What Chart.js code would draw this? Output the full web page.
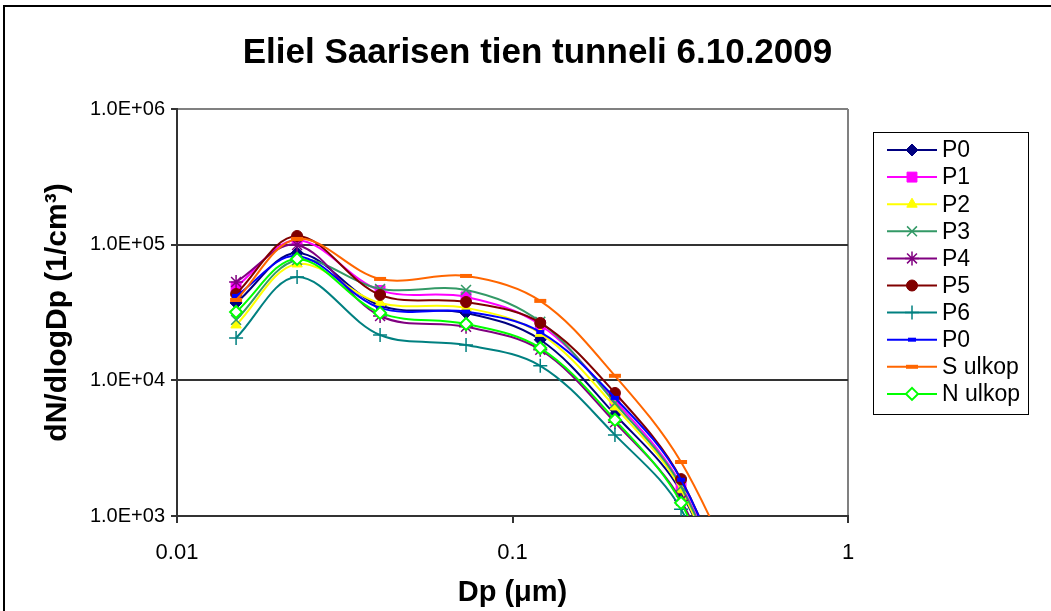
<!DOCTYPE html>
<html>
<head>
<meta charset="utf-8">
<script src="https://cdn.jsdelivr.net/npm/chart.js@4.4.0/dist/chart.umd.min.js"></script>
<style>
  html, body { margin: 0; padding: 0; background: #fff; }
  #wrap { position: relative; width: 1051px; height: 611px; }
</style>
</head>
<body>
<div id="wrap"><canvas id="psdChart" width="1051" height="611"></canvas></div>
<script>
// particle size (um) and dN/dlogDp values
const dp = [0.015, 0.0228, 0.0403, 0.0727, 0.121, 0.202, 0.318, 0.5];

const p0  = [37200, 86900, 35600, 31400, 19900, 5600, 1500, 95];
const p1  = [48800, 108000, 46000, 41200, 25600, 7100, 1700, 110];
const p2  = [25600, 72100, 37200, 34200, 22200, 6370, 1560, 95];
const p3  = [27900, 77000, 47200, 46400, 27000, 6800, 1650, 105];
const p4  = [53100, 99500, 29800, 24800, 16800, 4900, 1300, 85];
const p5  = [43300, 115900, 42600, 37800, 26500, 8070, 1870, 120];
const p6  = [20500, 57800, 21600, 18200, 12800, 3960, 1120, 70];
const p0b = [41900, 82600, 34200, 32100, 22700, 7420, 1850, 120];
const sUlkop = [39100, 110200, 55900, 58800, 38500, 10800, 2500, 250];
const nUlkop = [31900, 78500, 31400, 26000, 17300, 5110, 1250, 75];

const seriesNames = ["P0", "P1", "P2", "P3", "P4", "P5", "P6", "P0", "S ulkop", "N ulkop"];
const seriesValues = [p0, p1, p2, p3, p4, p5, p6, p0b, sUlkop, nUlkop];

const xTickValues = [0.01, 0.1, 1];
const xTickLabels = ["0.01", "0.1", "1"];
const yTickValues = [1e3, 1e4, 1e5, 1e6];
const yTickLabels = ["1.0E+03", "1.0E+04", "1.0E+05", "1.0E+06"];

const FONT = "'Liberation Sans', Arial, sans-serif";

// line colour, marker style, marker radius, marker fill
const looks = [
  { c: "#000080", ps: "rectRot",  r: 6, fill: "#000080", bw: 1 },
  { c: "#FF00FF", ps: "rect",     r: 7, fill: "#FF00FF", bw: 1 },
  { c: "#FFFF00", ps: "triangle", r: 6, fill: "#FFFF00", bw: 1 },
  { c: "#339966", ps: "crossRot", r: 7, fill: "#339966", bw: 1.5 },
  { c: "#800080", ps: "star",     r: 7, fill: "#800080", bw: 1.5 },
  { c: "#800000", ps: "circle",   r: 5.5, fill: "#800000", bw: 1 },
  { c: "#008080", ps: "cross",    r: 7, fill: "#008080", bw: 1.5 },
  { c: "#0000FF", ps: "line",     r: 4, fill: "#0000FF", bw: 4 },
  { c: "#FF6600", ps: "line",     r: 6, fill: "#FF6600", bw: 4 },
  { c: "#00FF00", ps: "rectRot",  r: 6, fill: "#FFFFFF", bw: 2 }
];

const datasets = seriesNames.map((name, i) => ({
  label: name,
  data: dp.map((x, j) => ({ x: x, y: seriesValues[i][j] })),
  borderColor: looks[i].c,
  borderWidth: 2,
  tension: 0.35,
  pointStyle: looks[i].ps,
  pointRadius: looks[i].r,
  pointHoverRadius: looks[i].r,
  pointBackgroundColor: looks[i].fill,
  pointBorderColor: looks[i].c,
  pointBorderWidth: looks[i].bw,
  order: 20 - i
}));

const frame = {
  id: "frame",
  beforeDraw(chart) {
    const ctx = chart.ctx;
    ctx.save();
    ctx.fillStyle = "#fff";
    ctx.fillRect(0, 0, chart.width, chart.height);
    ctx.strokeStyle = "#000";
    ctx.lineWidth = 2;
    ctx.beginPath();
    ctx.moveTo(4, chart.height);
    ctx.lineTo(4, 6);
    ctx.lineTo(chart.width, 6);
    ctx.stroke();
    ctx.restore();
  }
};

const boxLegend = {
  id: "boxLegend",
  afterDraw(chart) {
    const ctx = chart.ctx;
    ctx.save();
    ctx.strokeStyle = "#000";
    ctx.lineWidth = 1;
    ctx.strokeRect(873.5, 132.5, 155, 282);
    chart.data.datasets.forEach((ds, i) => {
      const y = 150 + i * 27.1;
      ctx.strokeStyle = ds.borderColor;
      ctx.lineWidth = 2;
      ctx.beginPath();
      ctx.moveTo(887, y);
      ctx.lineTo(937, y);
      ctx.stroke();
      ctx.fillStyle = ds.pointBackgroundColor;
      ctx.strokeStyle = ds.pointBorderColor;
      ctx.lineWidth = ds.pointBorderWidth;
      Chart.helpers.drawPoint(ctx, {
        pointStyle: ds.pointStyle, radius: ds.pointRadius,
        borderWidth: ds.pointBorderWidth, rotation: 0
      }, 912, y);
      ctx.fillStyle = "#000";
      ctx.font = "23px " + FONT;
      ctx.textBaseline = "middle";
      ctx.textAlign = "left";
      ctx.fillText(ds.label, 942, y + 1);
    });
    ctx.restore();
  }
};

const ctx = document.getElementById("psdChart");
new Chart(ctx, {
  type: "line",
  data: { datasets: datasets },
  plugins: [frame, boxLegend],
  options: {
    responsive: false,
    animation: false,
    devicePixelRatio: 1,
    layout: { padding: { left: 24, top: 0, right: 0, bottom: 0 } },
    plugins: {
      legend: { display: false },
      tooltip: { enabled: false },
      title: {
        display: true,
        text: "Eliel Saarisen tien tunneli 6.10.2009",
        color: "#000",
        font: { family: FONT, size: 35, weight: "bold" },
        padding: { top: 32, bottom: 35 }
      }
    },
    scales: {
      x: {
        type: "logarithmic",
        min: 0.01,
        max: 1,
        afterBuildTicks: (s) => { s.ticks = xTickValues.map(v => ({ value: v })); },
        afterFit: (s) => { s.height = 95; },
        ticks: {
          color: "#000",
          font: { family: FONT, size: 22 },
          padding: 17,
          maxRotation: 0,
          autoSkip: false,
          callback: (v) => xTickLabels[xTickValues.indexOf(v)]
        },
        grid: {
          drawOnChartArea: true,
          color: (c) => (c.tick && c.tick.value === 1 ? "#808080" : "rgba(0,0,0,0)"),
          lineWidth: 2,
          tickColor: "#333",
          tickLength: 7
        },
        border: { color: "#333", width: 2 },
        title: {
          display: true,
          text: "Dp (μm)",
          color: "#000",
          font: { family: FONT, size: 29, weight: "bold" },
          padding: { top: 0, bottom: 1 }
        }
      },
      y: {
        type: "logarithmic",
        min: 1000,
        max: 1000000,
        afterBuildTicks: (s) => { s.ticks = yTickValues.map(v => ({ value: v })); },
        afterFit: (s) => { s.width = 153; },
        ticks: {
          color: "#000",
          font: { family: FONT, size: 20 },
          padding: 6,
          autoSkip: false,
          callback: (v) => yTickLabels[yTickValues.indexOf(v)]
        },
        grid: {
          color: (c) => (c.tick && c.tick.value === 1e6 ? "#808080" : "#333"),
          lineWidth: 2,
          tickColor: "#333",
          tickLength: 6
        },
        border: { color: "#333", width: 2 },
        title: {
          display: true,
          text: "dN/dlogDp (1/cm³)",
          color: "#000",
          font: { family: FONT, size: 30, weight: "bold" },
          padding: { top: 16, bottom: 0 }
        }
      },
      legendSpace: {
        type: "linear",
        position: "right",
        display: true,
        afterFit: (s) => { s.width = 203; },
        ticks: { display: false },
        grid: { display: false, drawTicks: false },
        border: { display: false }
      }
    }
  }
});
</script>
</body>
</html>
